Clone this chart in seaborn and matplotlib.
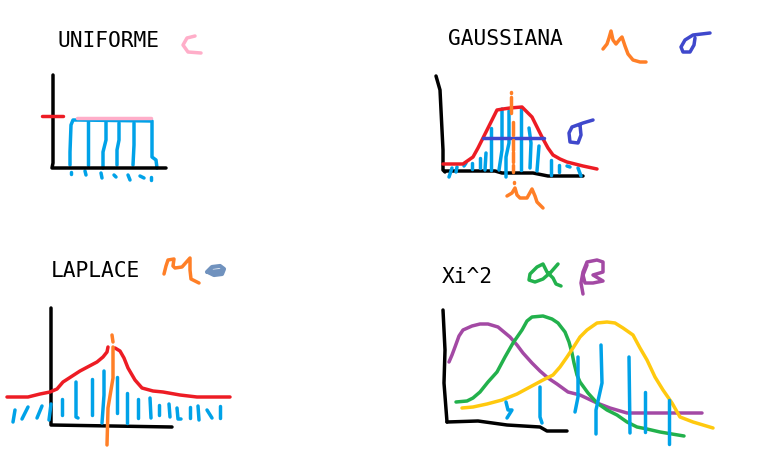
import matplotlib
matplotlib.use("Agg")
import matplotlib.pyplot as plt
import seaborn as sns

BLACK = "#000000"
RED = "#ed1c24"
BLUE = "#00a2e8"
PINK = "#ffaec9"
ORANGE = "#ff7f27"
INDIGO = "#3f48cc"
GREEN = "#22b14c"
PURPLE = "#a349a4"
YELLOW = "#ffc90e"
STEEL = "#7092be"

# titles
title_labels = ["UNIFORME", "GAUSSIANA", "LAPLACE", "Xi^2"]
title_x = [58, 448, 51, 442]
title_y = [41, 39, 271, 277]

# uniforme, strokes (pixels)
uni_axes = [[(53, 75), (53, 163), (52, 168), (166, 168)]]
uni_tick = [[(42, 116), (63, 116)]]
uni_stems = [
    [(70, 165), (70, 152), (71, 125), (73, 120), (78, 120), (152, 121), (152, 157), (156, 160), (157, 168)],
    [(88, 121), (88, 165)],
    [(106, 122), (106, 140), (103, 152), (103, 168)],
    [(119, 123), (119, 140), (117, 150), (117, 165)],
    [(134, 123), (134, 145), (133, 165)],
    [(71, 172), (71, 174)],
    [(85, 171), (86, 175)],
    [(101, 173), (102, 178)],
    [(114, 175), (116, 177)],
    [(128, 175), (130, 180)],
    [(140, 176), (144, 178)],
    [(151, 177), (151, 180)],
]
uni_top = [[(77, 118), (151, 118)]]
uni_c = [[(195, 36), (187, 38), (183, 45), (188, 52), (201, 53)]]

# gaussiana
gau_axes = [
    [(436, 76), (440, 90), (443, 150), (443, 170), (445, 172)],
    [(445, 171), (495, 171), (502, 173), (533, 173), (548, 176), (583, 176)],
]
gau_stems = [
    [(449, 177), (452, 168)],
    [(456, 172), (457, 167)],
    [(464, 166), (466, 163)],
    [(472, 169), (472, 163)],
    [(480, 168), (480, 158)],
    [(485, 170), (486, 153)],
    [(491, 170), (491, 128)],
    [(499, 170), (502, 150), (502, 109)],
    [(506, 177), (506, 157), (509, 143), (509, 111)],
    [(521, 170), (521, 108)],
    [(530, 168), (531, 143), (529, 128)],
    [(537, 171), (539, 146)],
    [(551, 175), (551, 160)],
    [(559, 172), (559, 165)],
    [(567, 166), (570, 167)],
    [(578, 168), (581, 176)],
]
gau_curve = [[(443, 164), (463, 164), (473, 157), (478, 148), (482, 140), (487, 130), (492, 120), (497, 110),
              (503, 109), (510, 108), (522, 107), (527, 112), (532, 117), (537, 127), (542, 137), (548, 148),
              (553, 155), (560, 159), (567, 162), (583, 166), (597, 169)]]
gau_sigma = [
    [(483, 138), (544, 138)],
    [(593, 120), (583, 123), (572, 127), (569, 133), (570, 142), (578, 143), (581, 135), (580, 125)],
    [(710, 33), (693, 35), (685, 40), (681, 47), (683, 52), (690, 52), (694, 45), (695, 38)],
]
gau_mu = [
    [(603, 49), (607, 44), (609, 38), (611, 31), (613, 40), (616, 44), (620, 39), (622, 37), (625, 46), (628, 54),
     (633, 60), (640, 62), (646, 62)],
    [(507, 196), (512, 193), (515, 188), (517, 195), (520, 198), (527, 198), (532, 189), (535, 196), (537, 202),
     (543, 208)],
    [(511, 92), (511, 93)],
    [(511, 97), (511, 113)],
    [(513, 122), (513, 135)],
    [(513, 140), (513, 150)],
    [(513, 152), (513, 162)],
    [(513, 165), (513, 172)],
    [(514, 182), (514, 183)],
]

# laplace
lap_axes = [[(51, 308), (51, 425), (172, 427)]]
lap_stems = [
    [(13, 422), (15, 410)],
    [(22, 419), (28, 407)],
    [(37, 418), (42, 406)],
    [(49, 420), (51, 404)],
    [(62, 415), (62, 399)],
    [(76, 382), (76, 417), (78, 418)],
    [(92, 379), (92, 415)],
    [(104, 371), (104, 395), (102, 423)],
    [(117, 377), (117, 413)],
    [(127, 393), (127, 423)],
    [(138, 399), (138, 418)],
    [(150, 398), (151, 418)],
    [(159, 405), (159, 415)],
    [(169, 404), (170, 417)],
    [(177, 408), (178, 419), (181, 419)],
    [(190, 407), (190, 418)],
    [(198, 406), (199, 420)],
    [(207, 410), (212, 418)],
    [(220, 406), (220, 418)],
]
lap_curve = [
    [(7, 397), (28, 397), (40, 394), (50, 392), (57, 389), (63, 382), (80, 371), (97, 362), (103, 357), (107, 352),
     (108, 347)],
    [(115, 348), (120, 351), (124, 358), (128, 368), (135, 380), (142, 388), (153, 391), (163, 392), (180, 395),
     (197, 397), (230, 397)],
]
lap_mu = [
    [(112, 335), (113, 342)],
    [(113, 347), (113, 378), (108, 408), (107, 445)],
    [(164, 274), (166, 266), (168, 260), (174, 259), (173, 266), (175, 268), (182, 267), (190, 258), (190, 270),
     (191, 279), (199, 283)],
]
lap_b = [[(207, 272), (212, 267), (220, 266), (224, 269), (222, 274), (214, 275), (208, 272), (220, 271)]]

# xi^2
xi_axes = [
    [(443, 310), (445, 350), (444, 383), (447, 422)],
    [(447, 422), (478, 421), (507, 425), (540, 427), (547, 431), (567, 431)],
]
xi_purple = [
    [(449, 362), (452, 355), (455, 347), (459, 336), (463, 330), (472, 326), (480, 324), (488, 324), (498, 327),
     (510, 337), (517, 345), (523, 353), (532, 363), (540, 371), (548, 378), (557, 384), (568, 392), (580, 395),
     (597, 403), (610, 408), (627, 413), (635, 413), (702, 413)],
    [(583, 294), (581, 283), (583, 272), (587, 262), (597, 260), (603, 262), (603, 272), (593, 275), (603, 281),
     (593, 283), (585, 283), (583, 275), (587, 265)],
]
xi_green = [
    [(456, 402), (467, 401), (473, 398), (480, 392), (488, 382), (497, 372), (505, 357), (513, 343), (522, 330),
     (527, 321), (532, 317), (543, 316), (552, 319), (558, 323), (565, 332), (569, 342), (572, 353), (574, 363),
     (577, 375), (580, 382), (588, 393), (597, 403), (607, 410), (617, 415), (627, 422), (637, 427), (647, 429),
     (660, 432), (684, 436)],
    [(558, 264), (551, 272), (543, 279), (535, 282), (529, 280), (530, 274), (537, 267), (543, 264), (547, 272),
     (553, 278), (556, 284), (561, 286)],
]
xi_yellow = [[(462, 408), (473, 407), (487, 404), (502, 400), (517, 394), (530, 387), (543, 380), (553, 375),
              (560, 367), (567, 357), (573, 348), (580, 337), (587, 330), (597, 323), (607, 322), (615, 323),
              (623, 328), (633, 335), (640, 348), (647, 360), (655, 377), (663, 390), (672, 403), (680, 417),
              (693, 422), (713, 428)]]
xi_stems = [
    [(506, 402), (508, 410), (512, 410), (507, 418)],
    [(540, 387), (540, 417), (542, 423)],
    [(578, 357), (578, 397), (575, 412)],
    [(601, 345), (602, 383), (596, 410), (596, 434)],
    [(629, 357), (630, 433)],
    [(645, 392), (645, 432)],
    [(669, 400), (669, 444)],
]

sns.set_theme(style="white")
plt.rcParams["font.family"] = ["DejaVu Sans Mono"]

fig = plt.figure(figsize=(7.79, 4.59), dpi=100)
ax = fig.add_axes([0, 0, 1, 1])


def draw(strokes, color, lw=2.5):
    for stroke in strokes:
        xs = [p[0] for p in stroke]
        ys = [p[1] for p in stroke]
        sns.lineplot(x=xs, y=ys, ax=ax, color=color, linewidth=lw, sort=False,
                     estimator=None, legend=False, solid_capstyle="round", solid_joinstyle="round")


# back to front, the way it was painted
draw(uni_stems, BLUE)
draw(uni_axes, BLACK)
draw(uni_tick, RED)
draw(uni_top, PINK)
draw(uni_c, PINK)

draw(gau_axes, BLACK)
draw(gau_stems, BLUE)
draw(gau_curve, RED)
draw(gau_sigma, INDIGO)
draw(gau_mu, ORANGE)

draw(lap_axes, BLACK)
draw(lap_stems, BLUE)
draw(lap_curve, RED)
draw(lap_mu, ORANGE)
draw(lap_b, STEEL, lw=3)

draw(xi_axes, BLACK)
draw(xi_purple, PURPLE)
draw(xi_green, GREEN)
draw(xi_yellow, YELLOW)
draw(xi_stems, BLUE)

for label, x, y in zip(title_labels, title_x, title_y):
    ax.text(x, y, label, fontsize=15.3, color="black", ha="left", va="center")

ax.set_xlim(0, 779)
ax.set_ylim(459, 0)
ax.set_xlabel("")
ax.set_ylabel("")
ax.axis("off")

fig.savefig("out.png", dpi=100, facecolor="white")
